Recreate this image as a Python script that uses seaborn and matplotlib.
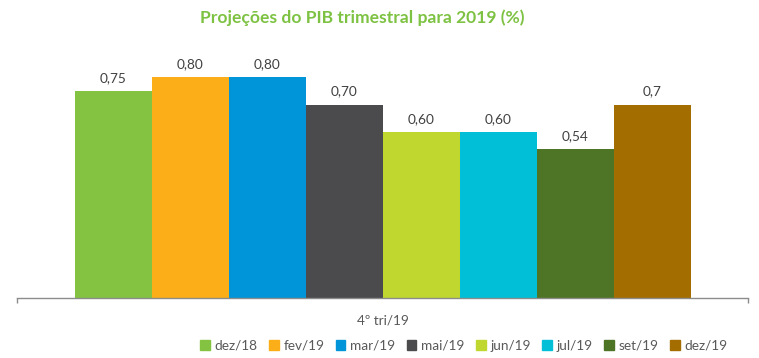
import numpy as np
import pandas as pd
import matplotlib.pyplot as plt
import seaborn as sns

# ── data ──────────────────────────────────────────────────────────────────────
category = "4º tri/19"
series = ["dez/18", "fev/19", "mar/19", "mai/19", "jun/19", "jul/19", "set/19", "dez/19"]
values = [0.75, 0.80, 0.80, 0.70, 0.60, 0.60, 0.54, 0.70]
value_labels = ["0,75", "0,80", "0,80", "0,70", "0,60", "0,60", "0,54", "0,7"]
colors = ["#84C341", "#FBAE17", "#0095D9", "#4B4B4D",
          "#C0D72F", "#00BFD7", "#4E7526", "#A36D00"]

df = pd.DataFrame({"cat": [category] * len(series), "serie": series, "valor": values})

sns.set_theme(style="white")
plt.rcParams["font.family"] = ["Lato", "DejaVu Sans"]

fig = plt.figure(figsize=(7.59, 3.58), dpi=100)
ax = fig.add_axes([17 / 759, 60 / 358, 731 / 759, 252 / 358])

sns.barplot(data=df, x="cat", y="valor", hue="serie", hue_order=series,
            palette=colors, width=616 / 731, gap=0, saturation=1,
            edgecolor="none", linewidth=0, ax=ax, legend=False)

for cont, lab in zip(ax.containers, value_labels):
    ax.bar_label(cont, labels=[lab], padding=5, fontsize=9.8, color="#404040")

ax.set_xlim(-0.5, 0.5)
ax.set_ylim(0, 0.912)
ax.set_xlabel("")
ax.set_ylabel("")
ax.set_yticks([])
ax.set_xticks([-0.5, 0.5])
ax.set_xticklabels([])
ax.tick_params(axis="x", which="major", length=3.5, width=1, color="#8C8C8C", direction="out", bottom=True)
ax.set_xticks([0], minor=True)
ax.set_xticklabels([category], minor=True)
ax.tick_params(axis="x", which="minor", length=0, pad=12, labelsize=9.8, labelcolor="#595959")
for s in ["top", "right", "left"]:
    ax.spines[s].set_visible(False)
ax.spines["bottom"].set_color("#8C8C8C")
ax.spines["bottom"].set_linewidth(1)

fig.text(0.477, 1 - 18 / 358, "Projeções do PIB trimestral para 2019 (%)", ha="center", va="center",
         fontsize=12.6, fontweight="bold", color="#7DC242")

handles = [plt.Rectangle((0, 0), 1, 1, color=c) for c in colors]
fig.legend(handles, series, loc="center right", bbox_to_anchor=(740 / 759, 1 - 346 / 358),
           ncol=8, frameon=False, fontsize=9.8, handlelength=0.7, handleheight=0.8,
           handletextpad=0.35, columnspacing=0.85, labelcolor="#595959")

fig.savefig("out.png", dpi=100)
